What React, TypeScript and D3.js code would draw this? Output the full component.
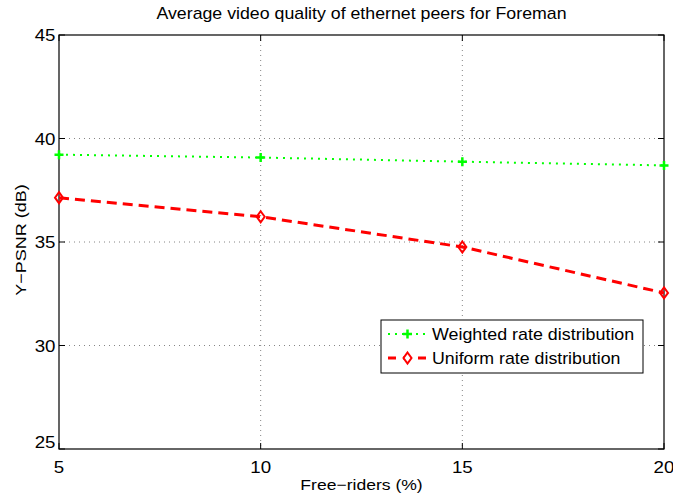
import React from "react";
import * as d3 from "d3";

const freeRiders = [5, 10, 15, 20];
const weighted = [39.22, 39.08, 38.88, 38.7];
const uniform = [37.14, 36.22, 34.76, 32.54];
const xTicks = [5, 10, 15, 20];
const yTicks = [25, 30, 35, 40, 45];

const W = 673, H = 495;
const L = 59, R = 664, T = 35, B = 449;
const FONT = "'Liberation Sans', Arial, Helvetica, sans-serif";

function Txt(props: { x: number; y: number; size: number; sx: number; anchor?: string; rot?: number; children: any }) {
  const { x, y, size, sx, anchor = "start", rot = 0, children } = props;
  return (
    <text
      transform={`translate(${x},${y}) rotate(${rot}) scale(${sx},1)`}
      fontSize={size}
      textAnchor={anchor as any}
      fill="#000"
    >
      {children}
    </text>
  );
}

export default function App() {
  const x = d3.scaleLinear().domain([5, 20]).range([L, R]);
  const y = d3.scaleLinear().domain([25, 45]).range([B, T]);
  const line = d3.line<number>().x((_, i) => x(freeRiders[i])).y((d) => y(d));
  const tl = 6;
  const diamond = (cx: number, cy: number) =>
    `M${cx},${cy - 5.5}L${cx + 4},${cy}L${cx},${cy + 5.5}L${cx - 4},${cy}Z`;
  const plus = (cx: number, cy: number) =>
    `M${cx - 4.5},${cy}H${cx + 4.5}M${cx},${cy - 4.5}V${cy + 4.5}`;

  return (
    <svg width={W} height={H} style={{ position: "absolute", left: 0, top: 0, background: "#fff" }} fontFamily={FONT}>
      <rect x={0} y={0} width={W} height={H} fill="#fff" />
      {/* grid */}
      {xTicks.slice(1, -1).map((t) => (
        <line key={"gx" + t} x1={x(t)} x2={x(t)} y1={T} y2={B} stroke="#666" strokeWidth={0.8} strokeDasharray="1,4" />
      ))}
      {yTicks.slice(1, -1).map((t) => (
        <line key={"gy" + t} x1={L} x2={R} y1={y(t)} y2={y(t)} stroke="#666" strokeWidth={0.8} strokeDasharray="1,4" />
      ))}
      {/* ticks */}
      {xTicks.map((t) => (
        <g key={"tx" + t}>
          <line x1={x(t)} x2={x(t)} y1={B} y2={B - tl} stroke="#000" />
          <line x1={x(t)} x2={x(t)} y1={T} y2={T + tl} stroke="#000" />
          <Txt x={x(t)} y={B + 24} size={16} sx={1.17} anchor="middle">{t}</Txt>
        </g>
      ))}
      {yTicks.map((t, i) => (
        <g key={"ty" + t}>
          <line x1={L} x2={L + tl} y1={y(t)} y2={y(t)} stroke="#000" />
          <line x1={R} x2={R - tl} y1={y(t)} y2={y(t)} stroke="#000" />
          <Txt x={L - 3.5} y={y(t) + 6 - (i === 0 ? 7 : 0)} size={16} sx={1.17} anchor="end">{t}</Txt>
        </g>
      ))}
      <rect x={L} y={T} width={R - L} height={B - T} fill="none" stroke="#000" strokeWidth={1.2} />
      {/* series */}
      <path d={line(weighted) || ""} fill="none" stroke="#00ff00" strokeWidth={2} strokeDasharray="2,5" />
      {weighted.map((v, i) => (
        <path key={"w" + i} d={plus(x(freeRiders[i]), y(v))} stroke="#00ff00" strokeWidth={2.5} fill="none" />
      ))}
      <path d={line(uniform) || ""} fill="none" stroke="#ff0000" strokeWidth={3} strokeDasharray="10,6" />
      {uniform.map((v, i) => (
        <path key={"u" + i} d={diamond(x(freeRiders[i]), y(v))} stroke="#ff0000" strokeWidth={2} fill="none" />
      ))}
      {/* legend */}
      <rect x={381} y={320} width={262} height={53} fill="#fff" stroke="#000" strokeWidth={1} />
      <line x1={388} x2={427} y1={334} y2={334} stroke="#00ff00" strokeWidth={2} strokeDasharray="2,5" />
      <path d={plus(407.5, 334)} stroke="#00ff00" strokeWidth={2.5} />
      <Txt x={432} y={339.5} size={16} sx={1.117}>Weighted rate distribution</Txt>
      <line x1={388} x2={427} y1={358} y2={358} stroke="#ff0000" strokeWidth={3} strokeDasharray="8,7" />
      <path d={diamond(407.5, 358)} stroke="#ff0000" strokeWidth={2} fill="#fff" />
      <Txt x={432} y={363.5} size={16} sx={1.11}>Uniform rate distribution</Txt>
      {/* labels */}
      <Txt x={(L + R) / 2} y={19} size={16} sx={1.11} anchor="middle">Average video quality of ethernet peers for Foreman</Txt>
      <Txt x={(L + R) / 2} y={490} size={15} sx={1.17} anchor="middle">Free−riders (%)</Txt>
      <Txt x={26} y={(T + B) / 2 - 2} size={15} sx={1.2} rot={-90} anchor="middle">Y−PSNR (dB)</Txt>
    </svg>
  );
}
